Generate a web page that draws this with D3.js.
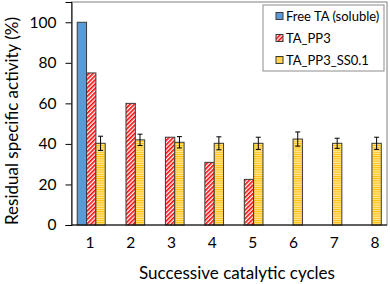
<!DOCTYPE html>
<meta charset="utf-8">
<style>
body { margin: 0; background: #fff; }
text { font-family: Lato, "Noto Sans", sans-serif; fill: #000; }
</style>
<body>
<script src="https://d3js.org/d3.v7.min.js"></script>
<script>

var cycles = ["1", "2", "3", "4", "5", "6", "7", "8"];
var series = ["Free TA (soluble)", "TA_PP3", "TA_PP3_SS0.1"];
var freeTA = [100, null, null, null, null, null, null, null];
var pp3 = [75, 60, 43.3, 30.9, 22.5, null, null, null];
var ss01 = [40.3, 42, 40.8, 40.3, 40.3, 42.4, 40.3, 40.3];
var ss01Err = [3.5, 2.8, 2.8, 3.2, 3, 3.5, 2.5, 3];
var yTicks = [0, 20, 40, 60, 80, 100];

var width = 390, height = 284;

var svg = d3.select("body").append("svg")
    .attr("width", width)
    .attr("height", height);

var defs = svg.append("defs");

var diag = defs.append("pattern")
    .attr("id", "diag")
    .attr("patternUnits", "userSpaceOnUse")
    .attr("width", 3).attr("height", 3)
    .attr("patternTransform", "rotate(45)");
diag.append("rect").attr("width", 3).attr("height", 3).attr("fill", "#fff");
diag.append("rect").attr("width", 1.6).attr("height", 3).attr("fill", "#f00");

var horiz = defs.append("pattern")
    .attr("id", "horiz")
    .attr("patternUnits", "userSpaceOnUse")
    .attr("width", 4).attr("height", 2.2);
horiz.append("rect").attr("width", 4).attr("height", 2.2).attr("fill", "#ffe699");
horiz.append("rect").attr("width", 4).attr("height", 1).attr("fill", "#ffc000");

var fills = ["#5b9bd5", "url(#diag)", "url(#horiz)"];

var x0 = d3.scaleBand().domain(cycles).range([71.5, 387]);
var x1 = d3.scaleBand().domain(series)
    .range([(x0.bandwidth() - 28) / 2, (x0.bandwidth() + 28) / 2]);
var y = d3.scaleLinear().domain([0, 110]).range([225, 2]);
// tick labels in the picture drift slightly from the bar groups
var xLab = d3.scalePoint().domain(cycles).range([90, 375]);

// plot frame
svg.append("rect")
    .attr("x", 71.5).attr("y", 2)
    .attr("width", 387 - 71.5).attr("height", 223)
    .attr("fill", "none").attr("stroke", "#7f7f7f").attr("stroke-width", 1);

var data = [freeTA, pp3, ss01];
series.forEach(function(s, k) {
  svg.append("g").selectAll("rect")
    .data(cycles.map(function(c, i) { return {c: c, v: data[k][i]}; })
      .filter(function(d) { return d.v != null; }))
    .enter().append("rect")
    .attr("x", function(d) { return x0(d.c) + x1(s); })
    .attr("y", function(d) { return y(d.v); })
    .attr("width", x1.bandwidth())
    .attr("height", function(d) { return y(0) - y(d.v); })
    .attr("fill", fills[k])
    .attr("stroke", "#3a3a3a")
    .attr("stroke-width", 1);
});

// error bars
var eb = svg.append("g").attr("stroke", "#000").attr("stroke-width", 1);
cycles.forEach(function(c, i) {
  var cx = x0(c) + x1(series[2]) + x1.bandwidth() / 2;
  eb.append("line").attr("x1", cx).attr("x2", cx)
    .attr("y1", y(ss01[i] - ss01Err[i])).attr("y2", y(ss01[i] + ss01Err[i]));
  [ss01[i] - ss01Err[i], ss01[i] + ss01Err[i]].forEach(function(v) {
    eb.append("line").attr("x1", cx - 2.5).attr("x2", cx + 2.5)
      .attr("y1", y(v)).attr("y2", y(v));
  });
});

// y axis
var yAxis = svg.append("g")
    .attr("transform", "translate(71.5,0)")
    .call(d3.axisLeft(y).tickValues(yTicks).tickSize(6).tickPadding(9));
yAxis.select(".domain").attr("stroke", "#000");
yAxis.selectAll(".tick line").attr("stroke", "#000");
yAxis.selectAll("text").attr("font-size", 15.5).style("font-family", "Lato, sans-serif");

// x axis line
svg.append("line")
    .attr("x1", 71.5).attr("x2", 387)
    .attr("y1", y(0)).attr("y2", y(0))
    .attr("stroke", "#000");

svg.append("g").selectAll("text")
    .data(cycles).enter().append("text")
    .attr("x", function(d) { return xLab(d); })
    .attr("y", 248)
    .attr("text-anchor", "middle")
    .attr("font-size", 15.5)
    .text(function(d) { return d; });

svg.append("text")
    .attr("x", 237).attr("y", 279)
    .attr("text-anchor", "middle")
    .attr("font-size", 17)
    .text("Successive catalytic cycles");

svg.append("text")
    .attr("transform", "translate(18,121) rotate(-90)")
    .attr("text-anchor", "middle")
    .attr("font-size", 17)
    .text("Residual specific activity (%)");

// legend
var lg = svg.append("g");
lg.append("rect")
    .attr("x", 263).attr("y", 5)
    .attr("width", 121).attr("height", 66)
    .attr("fill", "#fff").attr("stroke", "#8c8c8c");
series.forEach(function(s, k) {
  var ly = 16 + k * 22;
  lg.append("rect")
    .attr("x", 276).attr("y", ly - 3.5)
    .attr("width", 7).attr("height", 7)
    .attr("fill", fills[k]).attr("stroke", "#3a3a3a");
  lg.append("text")
    .attr("x", 286).attr("y", ly + 4.5)
    .attr("font-size", 13)
    .text(s);
});

</script>
